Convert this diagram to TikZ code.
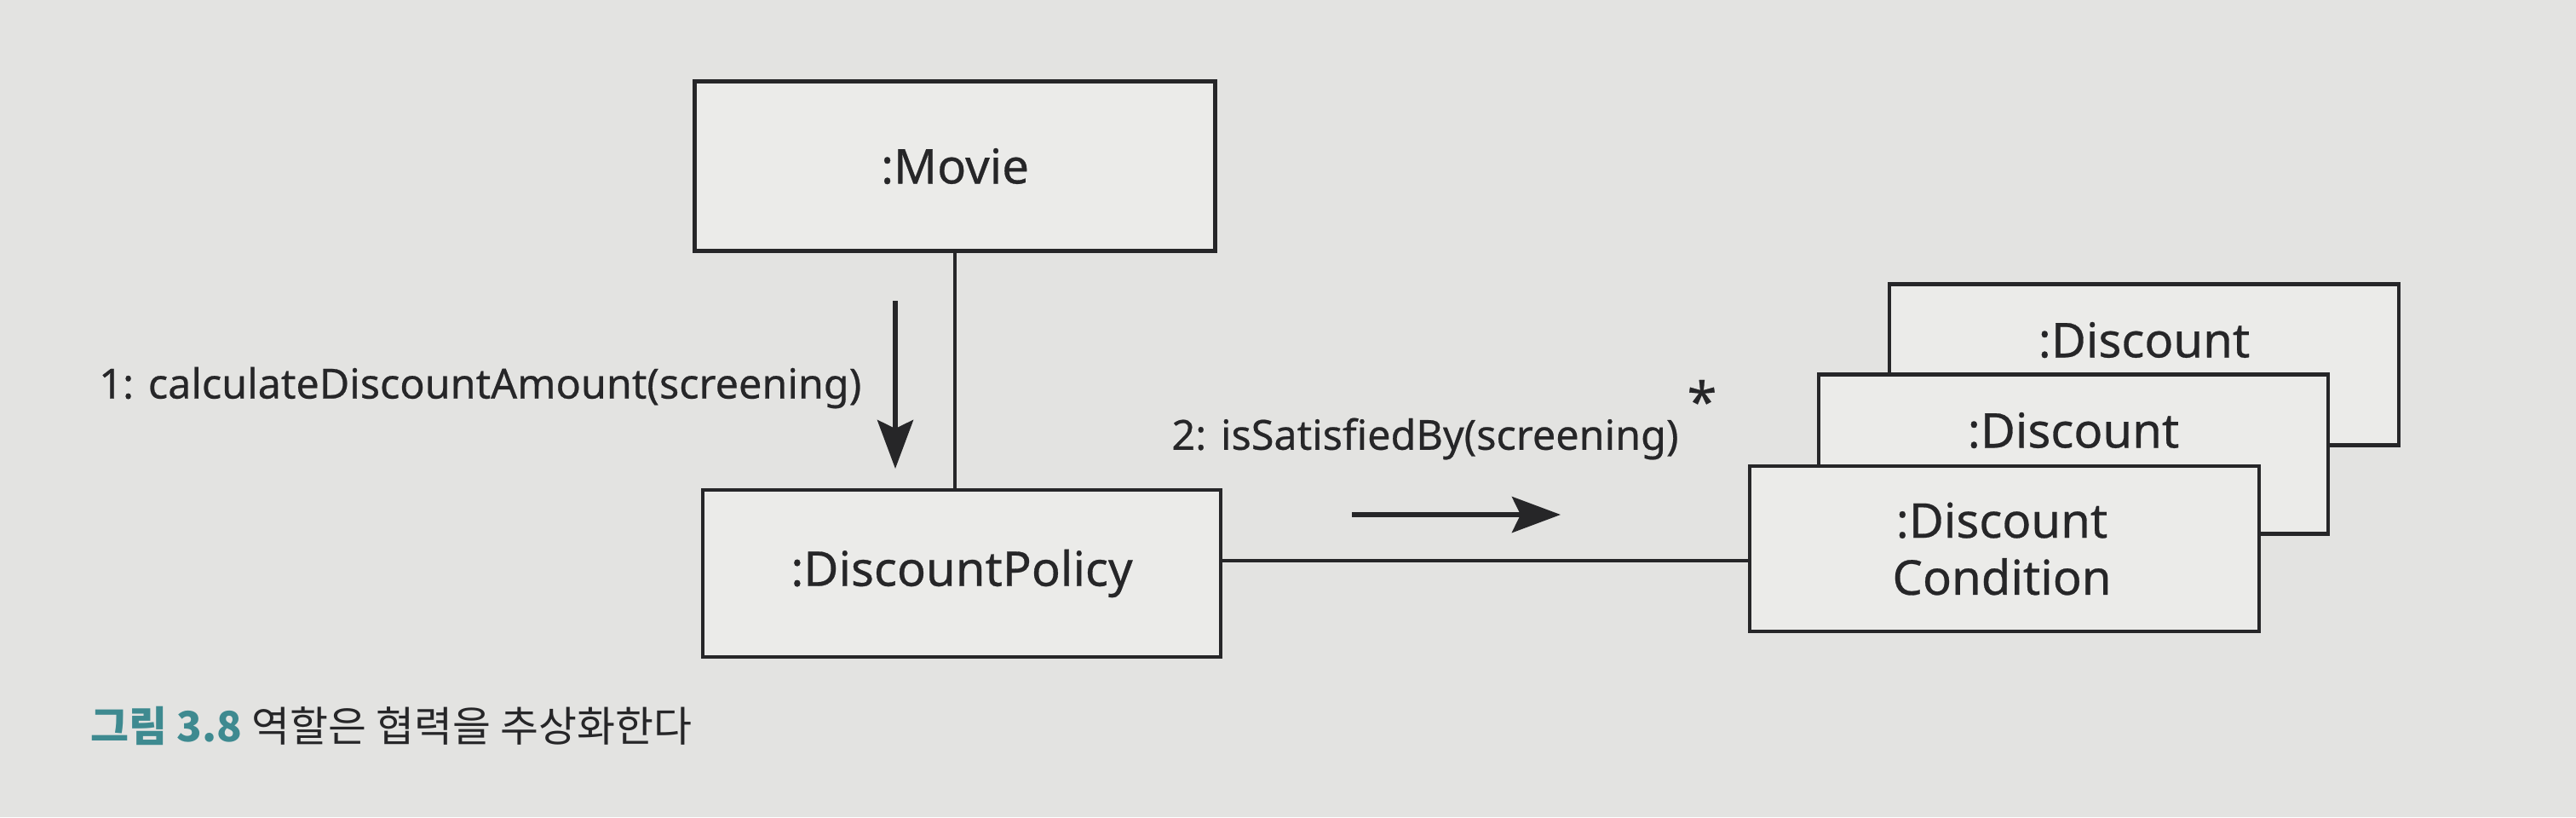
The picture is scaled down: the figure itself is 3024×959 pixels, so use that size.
\documentclass[tikz,border=0pt]{standalone}
\usepackage{fontspec}
\setmainfont{Noto Sans}[UprightFeatures={FakeBold=0.5}]
\newfontfamily\cjk{Noto Sans CJK KR}
\usetikzlibrary{arrows.meta,positioning}
\definecolor{paper}{HTML}{E3E3E1}
\definecolor{boxfill}{HTML}{EBEBE9}
\definecolor{ink}{HTML}{262628}
\definecolor{figteal}{HTML}{3E8A90}

\begin{document}
\begin{tikzpicture}[x=0.01cm,y=-0.01cm,
	obj/.style={rectangle,draw=ink,fill=boxfill,line width=1.3pt,inner sep=0pt,text=ink,font=\fontsize{16}{19}\selectfont},
	objtext/.style={inner sep=0pt,text=ink,align=center,font=\fontsize{16}{19}\selectfont},
	link/.style={draw=ink,line width=1.1pt},
	msg/.style={draw=ink,line width=1.6pt,-{Stealth[length=0.57cm,width=0.42cm,inset=0.1cm]}},
	lbl/.style={inner sep=0pt,text=ink,font=\fontsize{13.8}{17}\selectfont}]
	
	\fill[paper] (0,0) rectangle (3024,959);
	\useasboundingbox (0,0) rectangle (3024,959);
	
	% objects
	\node[obj,minimum width=6.11cm,minimum height=1.99cm] (movie) at (1121,195) {:Movie};
	\node[obj,minimum width=6.08cm,minimum height=1.96cm] (policy) at (1129,673) {:DiscountPolicy};
	
	\node[obj,minimum width=5.98cm,minimum height=1.89cm] (back) at (2517,428) {};
	\node[objtext] (backtxt) at (2517,399) {:Discount};
	\node[obj,minimum width=5.98cm,minimum height=1.87cm] (middle) at (2434,533) {};
	\node[objtext] (middletxt) at (2434,505) {:Discount};
	\node[obj,minimum width=5.98cm,minimum height=1.94cm] (front) at (2353,644) {};
	\node[objtext] (fronttxt) at (2350,644) {:Discount\\Condition};
	
	% links
	\draw[link] (movie.south) -- (movie.south |- policy.north);
	\coordinate (join) at ([yshift=-0.14cm]front.west);
	\draw[link] (policy.east |- join) -- (join);
	
	% messages
	\coordinate (m1from) at (1051,353);
	\coordinate (m1to) at (1051,550);
	\draw[msg] (m1from) -- (m1to);
	\node[lbl,anchor=east] (m1) at (1012,455) {1: calculateDiscountAmount(screening)};
	
	\coordinate (m2from) at (1587,604);
	\coordinate (m2to) at (1832,604);
	\draw[msg] (m2from) -- (m2to);
	\node[lbl] (m2) at (1673,515) {2: isSatisfiedBy(screening)};
	\node[lbl,font=\fontsize{18}{20}\selectfont] (m2star) at (1998,470) {*};
	
	% caption
	\node[anchor=west,inner sep=0pt,text=ink] (caption) at (106,852) {\cjk\fontsize{13.9}{16}\selectfont{\bfseries\color{figteal}그림 3.8} 역할은 협력을 추상화한다};
	
\end{tikzpicture}
\end{document}
